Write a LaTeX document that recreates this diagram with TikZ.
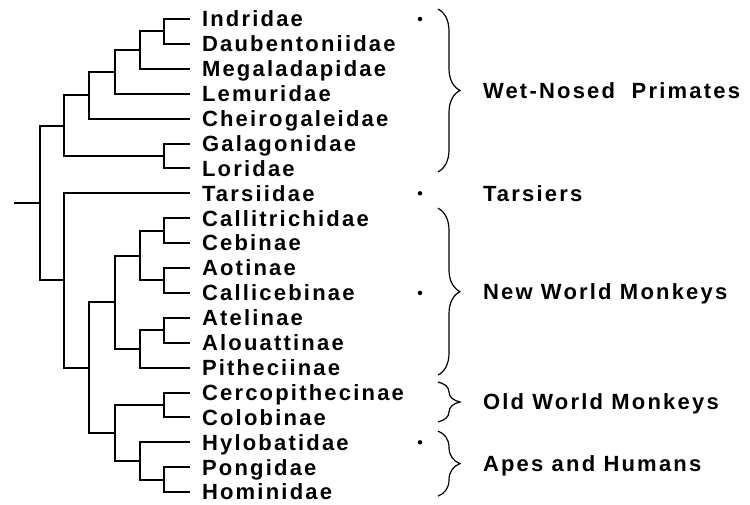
\documentclass[tikz,border=0pt]{standalone}
\usepackage{fontspec}
\setmainfont{Liberation Sans}[LetterSpace=10]
\usetikzlibrary{decorations.pathreplacing}
\begin{document}
\begin{tikzpicture}[x=1pt,y=-24.9pt,line width=2pt,
  every node/.style={font=\fontsize{22}{24}\selectfont\bfseries,inner sep=0pt,text height=15.75pt,text depth=0pt},
  taxon/.style={anchor=west,inner xsep=11pt},
  group/.style={anchor=west},
  dot/.style={circle,fill,minimum size=4.5pt,text height=,text depth=},
  clade/.style={decorate,decoration={brace,amplitude=22pt},line width=1.2pt}]
\useasboundingbox (0,-0.763) rectangle (750,19.478);
\node[taxon] (indr) at (190,0) {Indridae};
\node[taxon] (daub) at (190,1) {Daubentoniidae};
\node[taxon] (mega) at (190,2) {Megaladapidae};
\node[taxon] (lemu) at (190,3) {Lemuridae};
\node[taxon] (chei) at (190,4) {Cheirogaleidae};
\node[taxon] (gala) at (190,5) {Galagonidae};
\node[taxon] (lori) at (190,6) {Loridae};
\node[taxon] (tars) at (190,7) {Tarsiidae};
\node[taxon] (calt) at (190,8) {Callitrichidae};
\node[taxon] (cebi) at (190,9) {Cebinae};
\node[taxon] (aoti) at (190,10) {Aotinae};
\node[taxon] (calc) at (190,11) {Callicebinae};
\node[taxon] (atel) at (190,12) {Atelinae};
\node[taxon] (alou) at (190,13) {Alouattinae};
\node[taxon] (pith) at (190,14) {Pitheciinae};
\node[taxon] (cerc) at (190,15) {Cercopithecinae};
\node[taxon] (colo) at (190,16) {Colobinae};
\node[taxon] (hylo) at (190,17) {Hylobatidae};
\node[taxon] (pong) at (190,18) {Pongidae};
\node[taxon] (homi) at (190,19) {Hominidae};
\coordinate (base) at (14,7.390625);
\coordinate (root) at (40,7.390625);
\coordinate (strep) at (64,4.28125);
\coordinate (lem4) at (89,3.0625);
\coordinate (lem3) at (115,2.125);
\coordinate (lem2) at (140,1.25);
\coordinate (lem1) at (164,0.5);
\coordinate (loris) at (164,5.5);
\coordinate (hapl) at (64,10.5);
\coordinate (anth) at (89,14);
\coordinate (plat) at (115,11.375);
\coordinate (ceb1) at (140,9.5);
\coordinate (ceb2) at (164,8.5);
\coordinate (aot2) at (164,10.5);
\coordinate (ate1) at (140,13.25);
\coordinate (ate2) at (164,12.5);
\coordinate (cata) at (115,16.625);
\coordinate (cerc1) at (164,15.5);
\coordinate (hom1) at (140,17.75);
\coordinate (hom2) at (164,18.5);
\draw (base) -- (root);
\foreach \u/\v in {root/strep,root/hapl,strep/lem4,strep/loris,lem4/lem3,lem4/chei.west,
    lem3/lem2,lem3/lemu.west,lem2/lem1,lem2/mega.west,lem1/indr.west,lem1/daub.west,
    loris/gala.west,loris/lori.west,hapl/tars.west,hapl/anth,anth/plat,anth/cata,
    plat/ceb1,plat/ate1,ceb1/ceb2,ceb1/aot2,ceb2/calt.west,ceb2/cebi.west,
    aot2/aoti.west,aot2/calc.west,ate1/ate2,ate1/pith.west,ate2/atel.west,ate2/alou.west,
    cata/cerc1,cata/hom1,cerc1/cerc.west,cerc1/colo.west,hom1/hylo.west,hom1/hom2,
    hom2/pong.west,hom2/homi.west}
  \draw (\u) |- (\v);
\node[dot] (d1) at (420,0) {};
\node[dot] (d2) at (420,7) {};
\node[dot] (d3) at (420,11) {};
\node[dot] (d4) at (420,17) {};
\coordinate (wet1) at (438,-0.4);
\coordinate (wet2) at (438,6.14);
\coordinate (nwm1) at (438,7.6);
\coordinate (nwm2) at (438,14.3);
\coordinate (owm1) at (438,14.58);
\coordinate (owm2) at (438,16.18);
\coordinate (ape1) at (438,16.55);
\coordinate (ape2) at (438,19.16);
\draw[clade] (wet1) -- (wet2);
\draw[clade] (nwm1) -- (nwm2);
\draw[clade] (owm1) -- (owm2);
\draw[clade] (ape1) -- (ape2);
\node[group] (wet) at (482,2.87) {Wet-Nosed\ \ Primates};
\node[group] (tsr) at (482,7) {Tarsiers};
\node[group] (nwm) at (482,10.95) {New World Monkeys};
\node[group] (owm) at (482,15.38) {Old World Monkeys};
\node[group] (ape) at (482,17.86) {Apes and Humans};
\end{tikzpicture}
\end{document}
